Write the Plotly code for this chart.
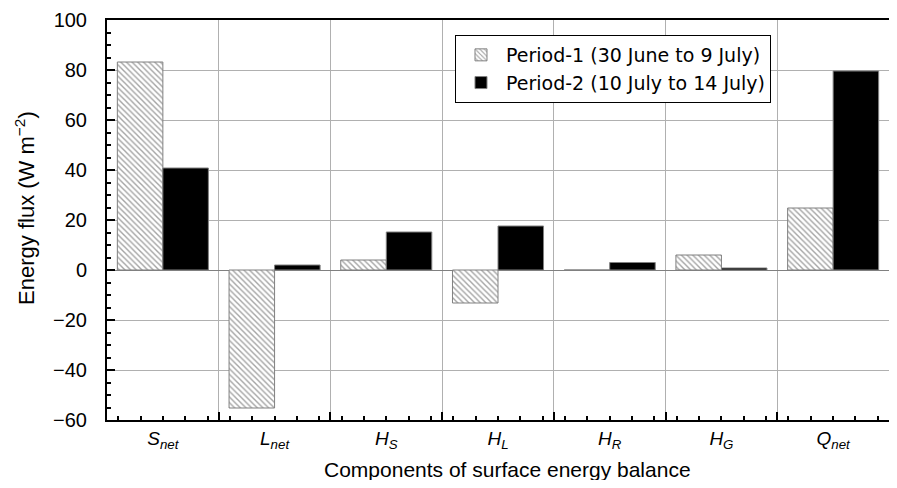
import plotly.graph_objects as go

# --------------------------------------------------
# Data
# --------------------------------------------------
components = [
    "<i>S</i><sub><i>net</i></sub>",
    "<i>L</i><sub><i>net</i></sub>",
    "<i>H</i><sub><i>S</i></sub>",
    "<i>H</i><sub><i>L</i></sub>",
    "<i>H</i><sub><i>R</i></sub>",
    "<i>H</i><sub><i>G</i></sub>",
    "<i>Q</i><sub><i>net</i></sub>",
]
period1 = [83.2, -55.2, 4.0, -13.2, 0.0, 6.0, 24.8]
period2 = [40.8, 2.0, 15.2, 17.6, 3.0, 0.8, 79.6]

period1_name = "Period-1 (30 June to 9 July)"
period2_name = "Period-2 (10 July to 14 July)"

FONT = "Liberation Sans, Arial, sans-serif"

fig = go.Figure()

fig.add_trace(
    go.Bar(
        x=components,
        y=period1,
        name=period1_name,
        marker=dict(
            color="white",
            line=dict(color="#808080", width=1),
            pattern=dict(shape="\\", fgcolor="#4a4a4a", bgcolor="white",
                         size=4, solidity=0.35),
        ),
    )
)

fig.add_trace(
    go.Bar(
        x=components,
        y=period2,
        name=period2_name,
        marker=dict(color="black", line=dict(color="#808080", width=1)),
    )
)

# invisible helper trace carrying the minor-tick axis
fig.add_trace(
    go.Scatter(x=[0], y=[0], xaxis="x2", mode="markers",
               marker=dict(opacity=0), showlegend=False, hoverinfo="skip")
)

# page body adds an 8px offset, so the figure is sized to fit inside it
fig.update_layout(
    width=881,
    height=472,
    template="plotly_white",
    plot_bgcolor="white",
    paper_bgcolor="white",
    barmode="group",
    bargap=0.185,
    bargroupgap=0,
    font=dict(family=FONT, size=20, color="black"),
    margin=dict(l=99, r=0, t=12, b=60),
    xaxis=dict(
        type="category",
        tickson="boundaries",
        ticks="",
        showgrid=True,
        gridcolor="#b0b0b0",
        gridwidth=1,
        showline=True,
        linecolor="black",
        linewidth=2,
        mirror=True,
        automargin=False,
        tickfont=dict(size=19),
    ),
    xaxis2=dict(
        overlaying="x",
        range=[-0.5, 6.5],
        showticklabels=False,
        showgrid=False,
        zeroline=False,
        automargin=False,
        tick0=-0.5,
        dtick=1,
        ticks="inside",
        ticklen=8,
        tickwidth=2,
        tickcolor="black",
        minor=dict(dtick=0.2, ticks="inside", ticklen=4,
                   tickwidth=2, tickcolor="black", showgrid=False),
    ),
    yaxis=dict(
        range=[-60, 100],
        dtick=20,
        ticks="inside",
        ticklen=8,
        tickwidth=2,
        tickcolor="black",
        minor=dict(dtick=5, ticks="inside", ticklen=4, tickwidth=2,
                   tickcolor="black", showgrid=False),
        showgrid=True,
        gridcolor="#b0b0b0",
        gridwidth=1,
        zeroline=True,
        zerolinecolor="#808080",
        zerolinewidth=1,
        showline=True,
        linecolor="black",
        linewidth=2,
        mirror=True,
        automargin=False,
        ticklabelstandoff=14,
        tickfont=dict(size=20),
    ),
    legend=dict(
        x=0.445,
        y=0.9625,
        xanchor="left",
        yanchor="top",
        bordercolor="black",
        borderwidth=1,
        bgcolor="white",
        itemwidth=40,
        font=dict(family="DejaVu Sans, sans-serif", size=19),
        tracegroupgap=0,
    ),
    showlegend=True,
)

# axis titles as annotations for exact placement
fig.add_annotation(
    text="Components of surface energy balance",
    xref="paper", yref="paper",
    x=0.512, y=-0.1225,
    xanchor="center", yanchor="middle",
    showarrow=False,
    font=dict(size=21),
)

fig.add_annotation(
    text="Energy flux (W m<sup>\u22122</sup>)",
    textangle=-90,
    xref="paper", yref="paper",
    x=-0.105, y=0.53,
    xanchor="center", yanchor="middle",
    showarrow=False,
    font=dict(size=22),
)

fig.write_html("out.html")
